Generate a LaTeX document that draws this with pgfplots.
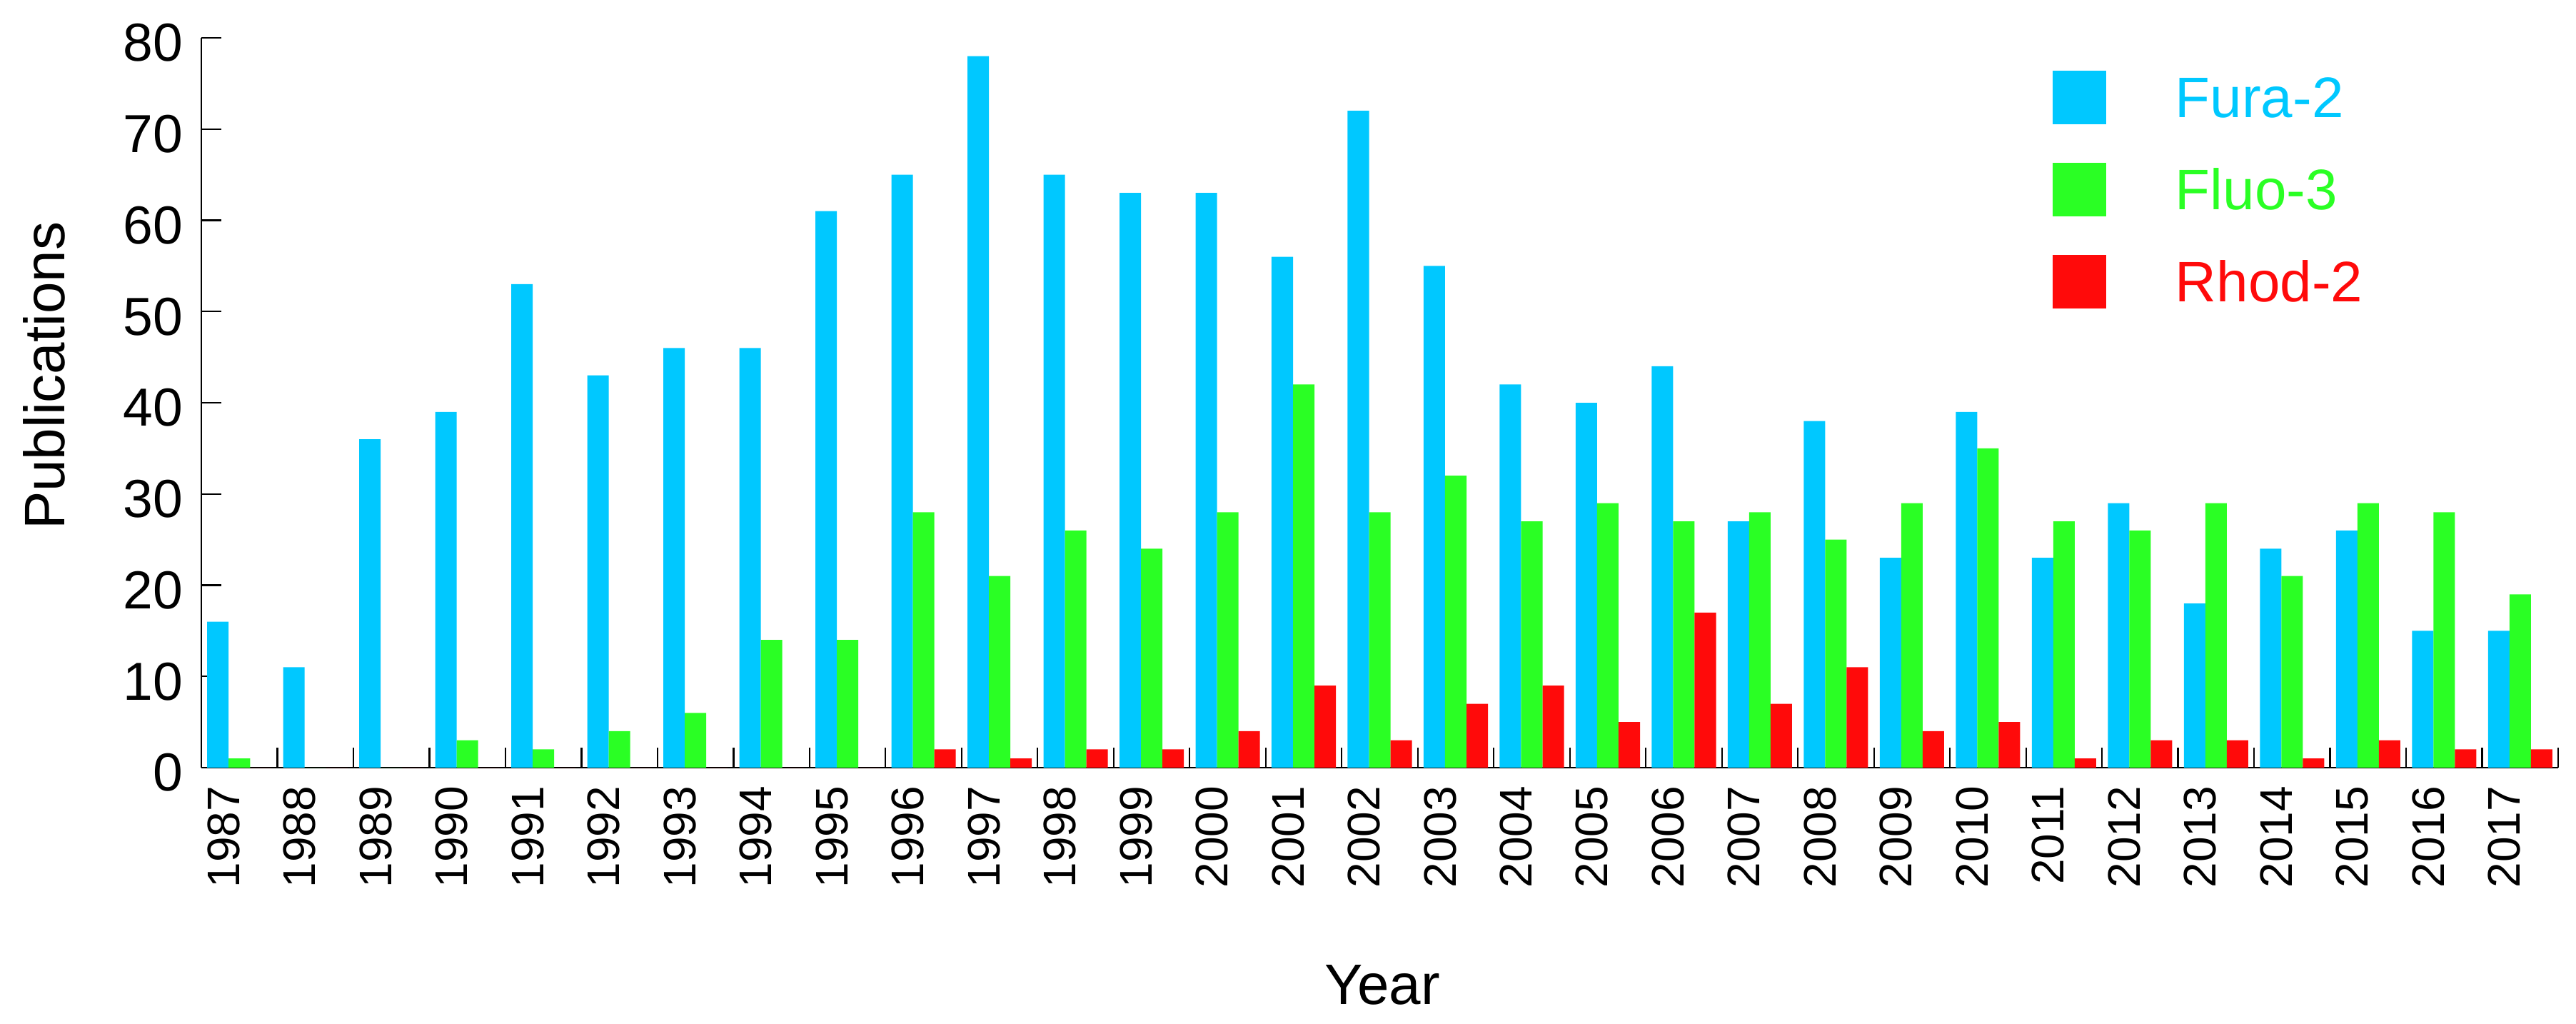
\documentclass[border=0pt]{standalone}
\usepackage{fontspec}
\setmainfont{Liberation Sans}
\usepackage{pgfplots}
\usepackage{pgfplotstable}
\pgfplotsset{compat=1.18}
\definecolor{fura}{RGB}{0,200,255}
\definecolor{fluo}{RGB}{42,255,36}
\definecolor{rhod}{RGB}{255,10,10}

\pgfplotstableread{
x year fura fluo rhod
0 1987 16 1 0
1 1988 11 0 0
2 1989 36 0 0
3 1990 39 3 0
4 1991 53 2 0
5 1992 43 4 0
6 1993 46 6 0
7 1994 46 14 0
8 1995 61 14 0
9 1996 65 28 2
10 1997 78 21 1
11 1998 65 26 2
12 1999 63 24 2
13 2000 63 28 4
14 2001 56 42 9
15 2002 72 28 3
16 2003 55 32 7
17 2004 42 27 9
18 2005 40 29 5
19 2006 44 27 17
20 2007 27 28 7
21 2008 38 25 11
22 2009 23 29 4
23 2010 39 35 5
24 2011 23 27 1
25 2012 29 26 3
26 2013 18 29 3
27 2014 24 21 1
28 2015 26 29 3
29 2016 15 28 2
30 2017 15 19 2
}\pubdata

\begin{document}
\begin{tikzpicture}
\useasboundingbox (-56.4pt,-71.6pt) rectangle (665.2pt,215pt);
\begin{axis}[
  at={(0pt,0pt)}, anchor=south west,
  scale only axis, width=660.2pt, height=204.4pt,
  xmin=-0.5, xmax=30.5, ymin=0, ymax=80,
  ybar=0pt, bar width=0.282,
  axis x line*=bottom, axis y line*=left,
  axis line style={line width=0.45pt, black},
  tick style={line width=0.45pt, black},
  tick align=inside,
  major tick length=5.6pt, minor tick length=5.6pt,
  xtick={0,...,30},
  xticklabels={1987,1988,1989,1990,1991,1992,1993,1994,1995,1996,1997,1998,1999,2000,2001,2002,2003,2004,2005,2006,2007,2008,2009,2010,2011,2012,2013,2014,2015,2016,2017},
  minor xtick={-0.5,0.5,...,30.5},
  every major x tick/.append style={draw=none},
  ytick={0,10,...,80},
  /pgf/number format/assume math mode=true,
  xticklabel style={rotate=90, anchor=base east, inner sep=0pt, font=\fontsize{12.8}{14}\selectfont},
  xticklabel shift=5pt,
  yticklabel style={anchor=east, inner sep=0pt, yshift=-1.4pt, font=\fontsize{15}{18}\selectfont},
  yticklabel shift=5pt,
  xlabel={Year}, ylabel={Publications},
  xlabel style={at={(axis description cs:0.501,-0.298)}, anchor=center, inner sep=0pt, font=\fontsize{16}{19}\selectfont},
  ylabel style={at={(axis description cs:-0.0666,0.537)}, anchor=center, inner sep=0pt, font=\fontsize{16}{19}\selectfont},
  legend style={at={(axis description cs:0.7855,0.959)}, anchor=north west, draw=none, fill=none,
    inner sep=0pt, outer sep=0pt, row sep=10pt, column sep=19.4pt,
    nodes={inner sep=0pt, text height=14pt, text depth=1pt, font=\fontsize{16}{19}\selectfont}},
  legend cell align=left,
  legend image code/.code={\fill[#1] (0pt,-8.3pt) rectangle (15pt,6.7pt);},
]
\addplot[fill=fura, draw=none, bar shift=-0.282] table[x=x, y=fura]{\pubdata};
\addlegendentry{\textcolor{fura}{Fura-2}}
\addplot[fill=fluo, draw=none, bar shift=0] table[x=x, y=fluo]{\pubdata};
\addlegendentry{\textcolor{fluo}{Fluo-3}}
\addplot[fill=rhod, draw=none, bar shift=0.282] table[x=x, y=rhod]{\pubdata};
\addlegendentry{\textcolor{rhod}{Rhod-2}}
\end{axis}
\end{tikzpicture}
\end{document}
